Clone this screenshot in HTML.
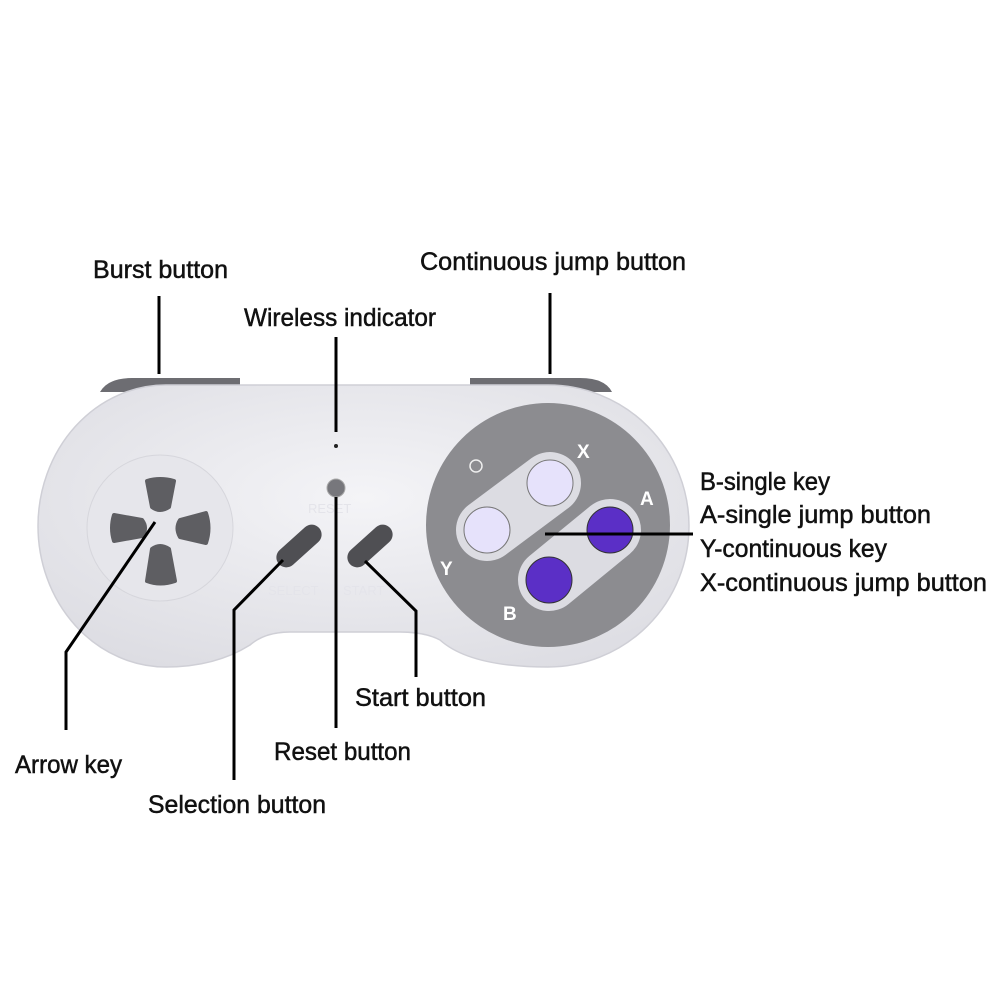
<!DOCTYPE html>
<html><head><meta charset="utf-8"><style>
html,body{margin:0;padding:0;background:#fff;width:1001px;height:1001px;overflow:hidden}
svg{display:block}
text.l{font-family:"Liberation Sans Narrow","Liberation Sans",sans-serif;font-size:25px;fill:#111;stroke:#111;stroke-width:0.5}
text.b{font-family:"Liberation Sans",sans-serif;font-weight:bold;font-size:19px;fill:#fff}
</style></head><body>
<svg width="1001" height="1001" viewBox="0 0 1001 1001">
<defs>
<radialGradient id="body" cx="50%" cy="40%" r="70%"><stop offset="0" stop-color="#f4f4f7"/><stop offset="1" stop-color="#dcdce2"/></radialGradient>
</defs>
<path d="M100 392 Q108 378 132 378 L240 378 L240 392 Z" fill="#6d6d72"/>
<path d="M470 392 L470 378 L580 378 Q605 378 612 392 Z" fill="#6d6d72"/>
<path d="M166 385 L548 385 A141 141 0 0 1 548 667 Q470 667 440 640 Q425 632 400 632 L290 632 Q265 632 250 645 Q215 667 166 667 A128 141 0 0 1 166 385 Z" fill="url(#body)" stroke="#cfcfd6" stroke-width="1.5"/>
<circle cx="160" cy="528" r="73" fill="#e6e6eb" stroke="#d6d6dc"/>
<g fill="#5e5e62" stroke="#5e5e62" stroke-width="4" stroke-linejoin="round">
<path d="M147 481 Q160 477 174 481 L169 507 Q160 513 152 507 Z"/>
<path d="M152 549 Q160 543 169 549 L175 581 Q160 586 147 581 Z"/>
<path d="M114 515 L142 520 Q148 528 142 536 L114 541 Q110 528 114 515 Z"/>
<path d="M180 520 L206 513 Q211 528 206 543 L180 537 Q175 528 180 520 Z"/>
</g>
<circle cx="336" cy="446" r="2" fill="#222"/>
<circle cx="336" cy="488" r="9" fill="#77777c" stroke="#aaa"/>
<text x="308" y="513" style="font-family:'Liberation Sans',sans-serif;font-size:13px;fill:#e4e4ea">RESET</text>
<rect x="272" y="536" width="54" height="20" rx="10" fill="#4f4f53" transform="rotate(-42 299 546)"/>
<rect x="343" y="536" width="54" height="20" rx="10" fill="#4f4f53" transform="rotate(-42 370 546)"/>
<text x="268" y="595" style="font-family:'Liberation Sans',sans-serif;font-size:13px;fill:#e4e4ea">SELECT</text>
<text x="343" y="595" style="font-family:'Liberation Sans',sans-serif;font-size:13px;fill:#e4e4ea">START</text>
<circle cx="548" cy="525" r="122" fill="#8c8c90"/>
<line x1="487" y1="530" x2="550" y2="483" stroke="#dcdce2" stroke-width="62" stroke-linecap="round"/>
<line x1="549" y1="580" x2="610" y2="530" stroke="#dcdce2" stroke-width="62" stroke-linecap="round"/>
<circle cx="550" cy="483" r="23" fill="#e6e2fb" stroke="#777"/>
<circle cx="487" cy="530" r="23" fill="#e6e2fb" stroke="#777"/>
<circle cx="610" cy="530" r="23" fill="#5b2fc6" stroke="#333"/>
<circle cx="549" cy="580" r="23" fill="#5b2fc6" stroke="#333"/>
<text class="b" x="577" y="458">X</text>
<text class="b" x="640" y="505">A</text>
<text class="b" x="440" y="575">Y</text>
<text class="b" x="503" y="620">B</text>
<circle cx="476" cy="466" r="6" fill="none" stroke="#eee" stroke-width="1.5"/>
<g stroke="#000" stroke-width="3" fill="none">
<line x1="159" y1="296" x2="159" y2="374"/>
<line x1="550" y1="293" x2="550" y2="374"/>
<line x1="336" y1="337" x2="336" y2="432"/>
<line x1="545" y1="534" x2="693" y2="534"/>
<polyline points="155,522 66,652 66,730"/>
<polyline points="234,780 234,610 283,560"/>
<line x1="336" y1="497" x2="336" y2="728"/>
<polyline points="365,561 416,611 416,677"/>
</g>
<text class="l" x="93" y="278" textLength="135" lengthAdjust="spacingAndGlyphs">Burst button</text>
<text class="l" x="420" y="270" textLength="266" lengthAdjust="spacingAndGlyphs">Continuous jump button</text>
<text class="l" x="244" y="326" textLength="192" lengthAdjust="spacingAndGlyphs">Wireless indicator</text>
<text class="l" x="700" y="490" textLength="130" lengthAdjust="spacingAndGlyphs">B-single key</text>
<text class="l" x="700" y="523" textLength="231" lengthAdjust="spacingAndGlyphs">A-single jump button</text>
<text class="l" x="700" y="557" textLength="187" lengthAdjust="spacingAndGlyphs">Y-continuous key</text>
<text class="l" x="700" y="591" textLength="287" lengthAdjust="spacingAndGlyphs">X-continuous jump button</text>
<text class="l" x="355" y="706" textLength="131" lengthAdjust="spacingAndGlyphs">Start button</text>
<text class="l" x="274" y="760" textLength="137" lengthAdjust="spacingAndGlyphs">Reset button</text>
<text class="l" x="15" y="773" textLength="107" lengthAdjust="spacingAndGlyphs">Arrow key</text>
<text class="l" x="148" y="813" textLength="178" lengthAdjust="spacingAndGlyphs">Selection button</text>
</svg>
</body></html>
